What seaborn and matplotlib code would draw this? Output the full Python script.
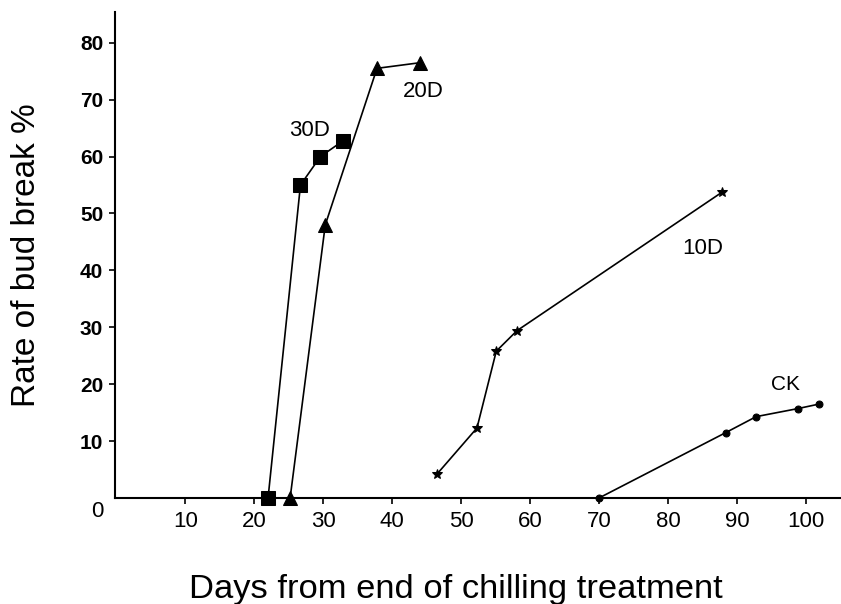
import matplotlib
matplotlib.use("Agg")
import matplotlib.pyplot as plt
import seaborn as sns
import pandas as pd

# ---- data ----
days_30d = [22.0, 26.7, 29.6, 32.8]
rate_30d = [0.0, 55.0, 60.0, 62.7]

days_20d = [25.2, 30.3, 37.8, 44.1]
rate_20d = [0.0, 48.0, 75.5, 76.5]

days_10d = [46.5, 52.3, 55.1, 58.1, 87.8]
rate_10d = [4.2, 12.3, 25.8, 29.4, 53.7]

days_ck = [70.0, 88.4, 92.8, 98.8, 101.9]
rate_ck = [0.0, 11.5, 14.3, 15.7, 16.5]

x_ticks = [10, 20, 30, 40, 50, 60, 70, 80, 90, 100]
y_ticks = [10, 20, 30, 40, 50, 60, 70, 80]

series_labels = ["30D", "20D", "10D", "CK"]

sns.set_theme(style="white")
plt.rcParams["font.family"] = ["Liberation Sans", "DejaVu Sans"]
plt.rcParams["text.color"] = "black"
plt.rcParams["axes.labelcolor"] = "black"
plt.rcParams["xtick.color"] = "black"
plt.rcParams["ytick.color"] = "black"

fig = plt.figure(figsize=(8.41, 6.04), dpi=100)
ax = fig.add_axes([115 / 841, 1 - 498 / 604, 1 - 115 / 841, (498 - 12) / 604])

series = [
    (days_30d, rate_30d, "s", 9.5),
    (days_20d, rate_20d, "^", 9.5),
    (days_10d, rate_10d, "*", 7),
    (days_ck, rate_ck, "o", 5),
]
for (xs, ys, mk, ms), name in zip(series, series_labels):
    df = pd.DataFrame({"day": xs, "rate": ys})
    sns.lineplot(data=df, x="day", y="rate", ax=ax, sort=False, color="black",
                 marker=mk, markersize=ms, markeredgecolor="black",
                 markerfacecolor="black", linewidth=1.2, clip_on=False)

ax.set_xlim(-0.2, 105.1)
ax.set_ylim(0, 85.4)

ax.set_xticks(x_ticks)
ax.set_xticklabels([str(v) for v in x_ticks])
ax.set_yticks(y_ticks)
ax.set_yticklabels([str(v) for v in y_ticks], fontweight="bold")

for s in ["top", "right"]:
    ax.spines[s].set_visible(False)
for s in ["left", "bottom"]:
    ax.spines[s].set_color("black")
    ax.spines[s].set_linewidth(1.5)

ax.tick_params(axis="both", which="both", direction="out", length=4.5, width=1.2,
               colors="black", pad=4)
ax.tick_params(axis="x", pad=5, labelsize=16)
ax.tick_params(axis="y", labelsize=15)
ax.tick_params(bottom=True, left=True)

ax.text(-2.75, -2.4, "0", fontsize=16, ha="center", va="center", clip_on=False)

ax.set_xlabel("Days from end of chilling treatment", fontsize=24.8)
ax.xaxis.set_label_coords(0.47, -0.156)
ax.set_ylabel("Rate of bud break %", fontsize=24)
ax.yaxis.set_label_coords(-0.1, 0.5)

ax.text(28.0, 64.5, "30D", fontsize=16, ha="center", va="center")
ax.text(44.5, 71.4, "20D", fontsize=16, ha="center", va="center")
ax.text(85.0, 43.8, "10D", fontsize=16, ha="center", va="center")
ax.text(97.1, 20.0, "CK", fontsize=15, ha="center", va="center")

fig.savefig("out.png", dpi=100)
